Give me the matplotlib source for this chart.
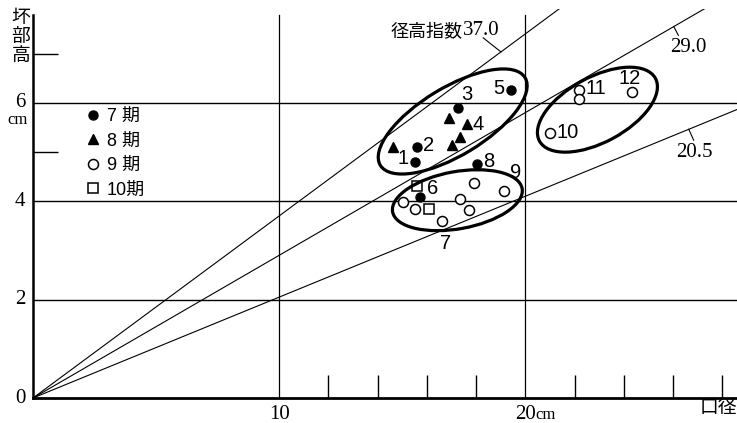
import matplotlib
matplotlib.use("Agg")
import matplotlib.pyplot as plt
from matplotlib.patches import Ellipse
from matplotlib.transforms import ScaledTranslation
from matplotlib.font_manager import FontProperties

# ---------------- data ----------------
p7_x = [15.53, 15.62, 17.25, 19.42, 18.04, 15.72]
p7_y = [4.80, 5.11, 5.89, 6.26, 4.76, 4.09]
p8_x = [14.61, 16.88, 17.63, 17.36, 17.02]
p8_y = [5.11, 5.70, 5.56, 5.31, 5.14]
p9_x = [15.05, 15.53, 17.36, 17.70, 16.61, 17.93, 19.15, 21.02, 22.17, 22.20, 24.34]
p9_y = [3.99, 3.85, 4.04, 3.83, 3.60, 4.36, 4.21, 5.38, 6.27, 6.08, 6.21]
p10_x = [15.62, 16.10]
p10_y = [4.30, 3.84]

legend_labels = ["7 期", "8 期", "9 期", "10期"]

index_values = [37.0, 29.0, 20.5]          # 径高指数 lines: height = index/100 * diameter
index_labels = ["径高指数", "37.0", "29.0", "20.5"]

point_numbers = ["1", "2", "3", "4", "5", "6", "7", "8", "9", "10", "11", "12"]
point_number_pos = [(15.04, 4.86), (16.06, 5.14), (17.64, 6.16), (18.09, 5.55),
                    (18.94, 6.30), (16.22, 4.25), (16.75, 3.15), (18.50, 4.80),
                    (19.59, 4.59), (21.71, 5.39), (22.85, 6.30), (24.23, 6.50)]

x_major = [10, 20]
x_minor = [12, 14, 16, 18, 22, 24, 26, 28]
y_major = [0, 2, 4, 6]
y_minor = [5, 7]

# ellipses: centre (data), semi-axes (px), angle (deg)
ellipses = [((17.05, 5.62), 84.6, 33.9, 31.2),
            ((17.24, 4.02), 65.8, 28.6, 10.2),
            ((22.93, 5.86), 65.9, 32.6, 28.4)]

XMAX, YMAX, YAXIS_TOP = 28.6, 7.9, 7.78

# ---------------- figure ----------------
fig = plt.figure(figsize=(7.37, 4.23), dpi=100)
ax = fig.add_axes([33 / 737, 25 / 423, 704 / 737, 388.7 / 423])
ax.set_xlim(0, XMAX)
ax.set_ylim(0, YMAX)

serif = "Liberation Serif"
sans = "Liberation Sans"
cjk = "Noto Sans CJK JP"
PX = 0.72  # points per pixel at 100 dpi

for s in ["top", "right"]:
    ax.spines[s].set_visible(False)
ax.spines["left"].set_linewidth(1.8)
ax.spines["bottom"].set_linewidth(2.0)
ax.spines["left"].set_bounds(0, YAXIS_TOP)

ax.set_xticks(x_minor)
ax.set_xticklabels([])
ax.tick_params(axis="x", direction="in", length=16.5, width=1.0, color="black")
ax.set_yticks(y_minor)
ax.set_yticklabels([])
ax.tick_params(axis="y", direction="in", length=18, width=1.0, color="black")

# grid lines
for y in [2, 4, 6]:
    ax.plot([0, XMAX], [y, y], color="black", lw=1.0, zorder=1)
for x in x_major:
    ax.plot([x, x], [0, YAXIS_TOP], color="black", lw=0.9, zorder=1)

# index lines
for v in index_values:
    k = v / 100.0
    xe = min(XMAX, 8.0 / k)
    ax.plot([0, xe], [0, k * xe], color="black", lw=0.8, zorder=1)

# index labels + leaders
ax.plot([18.29, 19.01], [7.32, 0.37 * 19.01], color="black", lw=0.8)
ax.annotate(index_labels[0], xy=(18.29, 7.32), xytext=(-21 * PX, 7 * PX),
            textcoords="offset points", ha="right", va="center",
            fontsize=13, family=[cjk])
ax.annotate(index_labels[1], xy=(18.29, 7.32), xytext=(-20 * PX, 7 * PX),
            textcoords="offset points", ha="left", va="center",
            fontsize=15, family=[serif])
ax.plot([26.03, 26.22], [0.29 * 26.03, 7.37], color="black", lw=0.8)
ax.annotate(index_labels[2], xy=(26.22, 7.37), xytext=(-8 * PX, -12 * PX),
            textcoords="offset points", ha="left", va="center",
            fontsize=15, family=[serif])
ax.plot([26.64, 26.84], [0.205 * 26.64, 5.24], color="black", lw=0.8)
ax.annotate(index_labels[3], xy=(26.84, 5.24), xytext=(-18 * PX, -12 * PX),
            textcoords="offset points", ha="left", va="center",
            fontsize=15, family=[serif])

# points
h7, = ax.plot(p7_x, p7_y, "o", ms=6.5, color="black", ls="none", zorder=4)
h8, = ax.plot(p8_x, p8_y, "^", ms=7.5, color="black", ls="none", zorder=4)
h9, = ax.plot(p9_x, p9_y, "o", ms=7.2, mfc="white", mec="black", mew=1.1, ls="none", zorder=4)
h10, = ax.plot(p10_x, p10_y, "s", ms=6.5, mfc="white", mec="black", mew=1.1, ls="none", zorder=4)

for t, (x, y) in zip(point_numbers, point_number_pos):
    ax.text(x, y, t, ha="center", va="center", fontsize=14.5, family=[sans])

# ellipses
for (cx, cy), a, b, ang in ellipses:
    tr = fig.dpi_scale_trans + ScaledTranslation(cx, cy, ax.transData)
    e = Ellipse((0, 0), 2 * a / 100, 2 * b / 100, angle=ang, transform=tr,
                fill=False, lw=2.3, ec="black", zorder=5)
    ax.add_patch(e)

# legend
leg = ax.legend([h7, h8, h9, h10], legend_labels, loc="upper left",
                bbox_to_anchor=(86 / 737, 1 - 108 / 423), bbox_transform=fig.transFigure,
                frameon=False, borderaxespad=0, borderpad=0, handlelength=0.8,
                handletextpad=0.35, labelspacing=0.42, numpoints=1,
                prop=FontProperties(family=[sans, cjk], size=13))

# tick labels as text
ax.annotate("10", xy=(10, 0), xytext=(0, -7 * PX), textcoords="offset points",
            ha="center", va="top", fontsize=15, family=[serif], annotation_clip=False)
ax.annotate("20", xy=(20, 0), xytext=(0, -7 * PX), textcoords="offset points",
            ha="center", va="top", fontsize=15, family=[serif], annotation_clip=False)
ax.annotate("cm", xy=(20, 0), xytext=(10 * PX, -9 * PX), textcoords="offset points",
            ha="left", va="top", fontsize=12, family=[serif], annotation_clip=False)
for v in y_major:
    ax.annotate(str(v), xy=(0, v), xytext=(-13 * PX, 0), textcoords="offset points",
                ha="center", va="center", fontsize=15, family=[serif], annotation_clip=False)
ax.annotate("cm", xy=(0, 6), xytext=(-15 * PX, -17 * PX), textcoords="offset points",
            ha="center", va="center", fontsize=12, family=[serif], annotation_clip=False)

# axis titles
fig.text(737 / 737, 1 - 407 / 423, "口径", ha="right", va="center", fontsize=13.5, family=[cjk])
for i, ch in enumerate("坏部高"):
    fig.text(21 / 737, 1 - (17 + 19 * i) / 423, ch, ha="center", va="center",
             fontsize=13.5, family=[cjk])

fig.savefig("out.png", dpi=100, facecolor="white")
